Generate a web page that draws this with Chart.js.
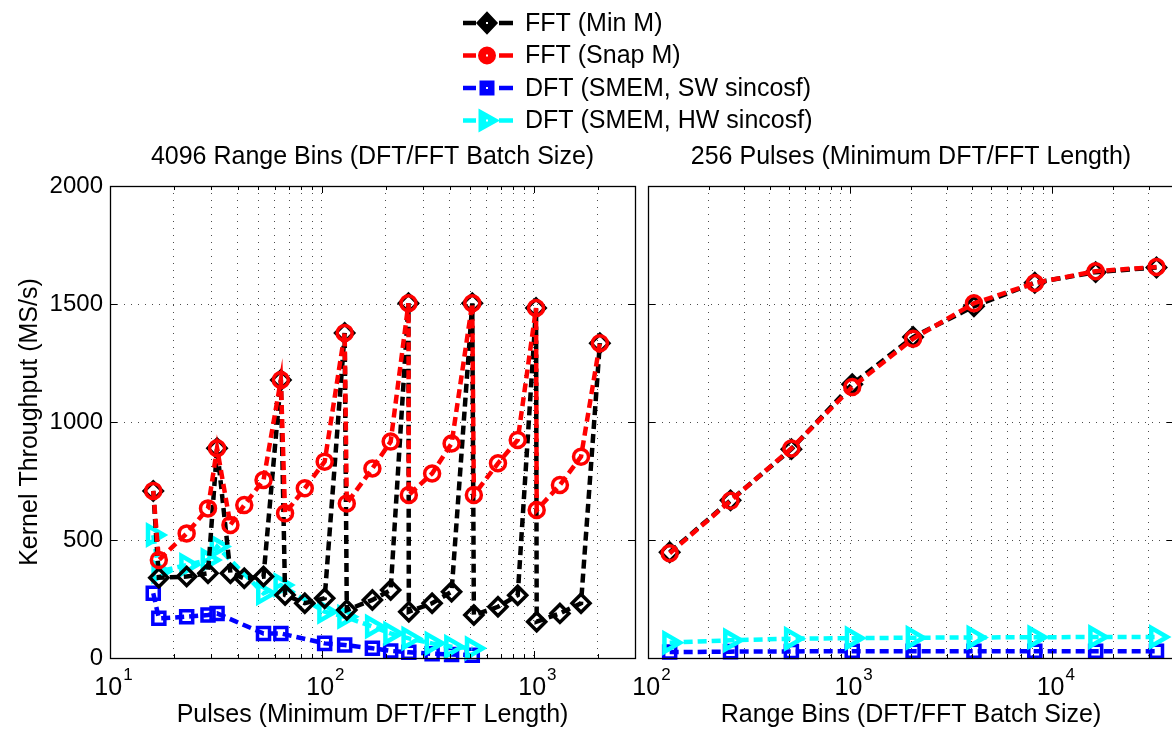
<!DOCTYPE html>
<html><head><meta charset="utf-8">
<script src="https://cdn.jsdelivr.net/npm/chart.js@4.4.1/dist/chart.umd.min.js"></script>
<style>
html,body{margin:0;padding:0;background:#fff;overflow:hidden;width:1172px;height:730px;}
#c1{position:absolute;left:0;top:0;}
#c2{position:absolute;left:600px;top:0;}
</style></head><body>
<canvas id="c1" width="1172" height="730"></canvas>
<canvas id="c2" width="576" height="730"></canvas>
<script>
const FONT = "'Liberation Sans', Arial, Helvetica, sans-serif";

// ---- Left panel: 4096 range bins, x = pulses ----
const pulsesFFT = [16, 17, 23, 29, 32, 37, 43, 53, 64, 67, 83, 103, 128, 131, 173, 211, 256, 257, 331, 409, 512, 521, 677, 839, 1024, 1031, 1327, 1669, 2048];
const fftMinM  = [708, 340, 345, 359, 889, 359, 338, 345, 1178, 267, 232, 253, 1377, 203, 246, 288, 1503, 196, 232, 281, 1503, 182, 217, 266, 1483, 154, 189, 232, 1334];
const fftSnapM = [708, 415, 528, 634, 889, 564, 648, 754, 1178, 613, 719, 832, 1377, 655, 803, 917, 1503, 691, 782, 909, 1503, 691, 825, 924, 1483, 627, 733, 853, 1334];
const pulsesDFT = [16, 17, 23, 29, 32, 53, 64, 103, 128, 173, 211, 257, 331, 409, 512];
const dftSW = [274, 168, 175, 182, 189, 104, 104, 62, 55, 41, 30, 24, 18, 15, 12];
const dftHW = [521, 366, 394, 415, 472, 274, 309, 196, 175, 133, 104, 83, 62, 48, 41];

// ---- Right panel: 256 pulses, x = range bins ----
const rangeBins = [128, 256, 512, 1024, 2048, 4096, 8192, 16384, 32768];
const rMinM  = [448, 668, 885, 1160, 1360, 1490, 1590, 1635, 1655];
const rSnapM = [444, 666, 888, 1148, 1353, 1503, 1589, 1639, 1657];
const rSW = [25, 27, 28, 29, 29, 29, 29, 29, 29];
const rHW = [65, 75, 82, 84, 86, 87, 88, 89, 89];

// ---- Ticks / labels ----
const yTicks = [0, 500, 1000, 1500, 2000];
const leftXGrid = [10,20,30,40,50,60,70,80,90,100,200,300,400,500,600,700,800,900,1000,2000,3000];
const rightXGrid = [100,200,300,400,500,600,700,800,900,1000,2000,3000,4000,5000,6000,7000,8000,9000,10000,20000,30000,40000];
const leftDecades = [10, 100, 1000];
const rightDecades = [100, 1000, 10000];
const legendLabels = ['FFT (Min M)', 'FFT (Snap M)', 'DFT (SMEM, SW sincosf)', 'DFT (SMEM, HW sincosf)'];
const seriesColors = ['#000000', '#ff0000', '#0000ff', '#00ffff'];
const titleLeft = '4096 Range Bins (DFT/FFT Batch Size)';
const titleRight = '256 Pulses (Minimum DFT/FFT Length)';
const xTitleLeft = 'Pulses (Minimum DFT/FFT Length)';
const xTitleRight = 'Range Bins (DFT/FFT Batch Size)';
const yTitle = 'Kernel Throughput (MS/s)';

const pts = (xs, ys) => xs.map((x, i) => ({x: x, y: ys[i]}));

const styles = [
  {pointStyle: 'rectRot', pointRadius: 9, rot: 0, order: 1, bw: 3.5},
  {pointStyle: 'circle', pointRadius: 7.5, rot: 0, order: 0, bw: 3.5},
  {pointStyle: 'rect', pointRadius: 8.5, rot: 0, order: 3, bw: 3.5},
  {pointStyle: 'triangle', pointRadius: 10.5, rot: 90, order: 2, bw: 4.5}
];

function mkDatasets(series) {
  return series.map((d, i) => ({
    label: legendLabels[i],
    data: d,
    borderColor: seriesColors[i],
    pointBorderColor: seriesColors[i],
    pointBackgroundColor: 'rgba(0,0,0,0)',
    borderWidth: 4.5,
    borderDash: [9, 5],
    pointBorderWidth: styles[i].bw,
    pointStyle: styles[i].pointStyle,
    pointRadius: styles[i].pointRadius,
    pointRotation: styles[i].rot,
    order: styles[i].order,
    tension: 0,
    fill: false,
    clip: false
  }));
}

function boxPlugin(decades) {
  return {
    id: 'mbox',
    afterDraw(chart) {
      const ctx = chart.ctx, a = chart.chartArea, x = chart.scales.x, y = chart.scales.y;
      ctx.save();
      ctx.setLineDash([]);
      ctx.strokeStyle = '#000';
      ctx.lineWidth = 1;
      ctx.beginPath();
      x.ticks.forEach(t => {
        const px = Math.round(x.getPixelForValue(t.value)) + 0.5;
        const L = decades.includes(t.value) ? 7 : 4;
        ctx.moveTo(px, a.bottom); ctx.lineTo(px, a.bottom - L);
        ctx.moveTo(px, a.top); ctx.lineTo(px, a.top + L);
      });
      y.ticks.forEach(t => {
        const py = Math.round(y.getPixelForValue(t.value)) + 0.5;
        ctx.moveTo(a.left, py); ctx.lineTo(a.left + 7, py);
        ctx.moveTo(a.right, py); ctx.lineTo(a.right - 7, py);
      });
      ctx.stroke();
      ctx.lineWidth = 1.3;
      ctx.strokeRect(Math.round(a.left) + 0.5, Math.round(a.top) + 0.5, Math.round(a.right - a.left), Math.round(a.bottom - a.top));
      ctx.fillStyle = '#000';
      ctx.textAlign = 'left';
      ctx.textBaseline = 'alphabetic';
      decades.forEach(v => {
        const px = x.getPixelForValue(v);
        const ex = String(Math.round(Math.log10(v)));
        ctx.font = '25px ' + FONT; const w1 = ctx.measureText('10').width;
        ctx.font = '17px ' + FONT; const w2 = ctx.measureText(ex).width;
        const sx = px - (w1 + w2) / 2 + 3;
        ctx.font = '25px ' + FONT; ctx.fillText('10', sx, 695);
        ctx.font = '17px ' + FONT; ctx.fillText(ex, sx + w1 + 1, 680);
      });
      ctx.restore();
    }
  };
}

function drawMarker(ctx, i, x, y) {
  const c = seriesColors[i];
  ctx.fillStyle = c; ctx.strokeStyle = c; ctx.lineWidth = 3;
  ctx.beginPath();
  if (i === 0) { ctx.moveTo(x - 9, y); ctx.lineTo(x, y - 9.5); ctx.lineTo(x + 9, y); ctx.lineTo(x, y + 9.5); ctx.closePath(); }
  else if (i === 1) { ctx.arc(x, y, 7.5, 0, Math.PI * 2); }
  else if (i === 2) { ctx.rect(x - 6, y - 6, 12, 12); }
  else { ctx.moveTo(x + 10, y); ctx.lineTo(x - 7, y - 9.5); ctx.lineTo(x - 7, y + 9.5); ctx.closePath(); }
  ctx.fill(); ctx.stroke();
  ctx.fillStyle = '#fff';
  ctx.fillRect(x - 1, y - 1, 2, 2);
}

const legendPlugin = {
  id: 'mlegend',
  afterDraw(chart) {
    const ctx = chart.ctx;
    ctx.save();
    legendLabels.forEach((lab, i) => {
      const y = 23 + i * 32.5;
      ctx.setLineDash([]);
      ctx.strokeStyle = seriesColors[i];
      ctx.lineWidth = 4.5;
      ctx.beginPath();
      ctx.moveTo(463, y); ctx.lineTo(476, y);
      ctx.moveTo(499, y); ctx.lineTo(513, y);
      ctx.stroke();
      drawMarker(ctx, i, 487, y);
      ctx.fillStyle = '#000';
      ctx.font = '25px ' + FONT;
      ctx.textAlign = 'left';
      ctx.textBaseline = 'middle';
      ctx.fillText(lab, 525, y + 1);
    });
    ctx.restore();
  }
};

const gridOpts = {color: 'rgba(0,0,0,0.7)', lineWidth: 1, drawTicks: false};
const borderOpts = {display: false, dash: [1, 6]};

function makeChart(canvas, cfg) {
  return new Chart(canvas, {
    type: 'line',
    data: {datasets: mkDatasets(cfg.series)},
    options: {
      responsive: false, animation: false, devicePixelRatio: 1, events: [],
      layout: {padding: cfg.padding, autoPadding: false},
      plugins: {
        legend: {display: false}, tooltip: {enabled: false},
        title: {display: true, text: cfg.title, fullSize: false, color: '#000',
                font: {family: FONT, size: 25, weight: 'normal', lineHeight: 1.2}, padding: {top: 2, bottom: 14}}
      },
      scales: {
        x: {
          type: 'logarithmic', min: cfg.xmin, max: cfg.xmax,
          afterBuildTicks: s => { s.ticks = cfg.xgrid.map(v => ({value: v})); },
          afterFit: s => { s.height = 72; },
          ticks: {display: false},
          grid: gridOpts, border: borderOpts,
          title: {display: true, text: cfg.xtitle, color: '#000', font: {family: FONT, size: 25, lineHeight: 1.2}, padding: {top: 0, bottom: 0}}
        },
        y: {
          type: 'linear', min: 0, max: 2000,
          afterBuildTicks: s => { s.ticks = yTicks.map(v => ({value: v})); },
          afterFit: s => { s.width = cfg.yWidth; },
          ticks: {display: cfg.yLabels, color: '#000', padding: 7, font: {family: FONT, size: 24},
                  callback: v => String(v)},
          grid: gridOpts, border: borderOpts,
          title: {display: cfg.yLabels, text: yTitle, color: '#000', font: {family: FONT, size: 25, lineHeight: 1.2}, padding: {top: 15, bottom: 0}}
        }
      }
    },
    plugins: cfg.plugins
  });
}

makeChart(document.getElementById('c1'), {
  series: [pts(pulsesFFT, fftMinM), pts(pulsesFFT, fftSnapM), pts(pulsesDFT, dftSW), pts(pulsesDFT, dftHW)],
  padding: {top: 140, right: 537, bottom: 0, left: 0},
  title: titleLeft, xtitle: xTitleLeft, xmin: 10, xmax: 3000, xgrid: leftXGrid,
  yWidth: 110, yLabels: true,
  plugins: [boxPlugin(leftDecades), legendPlugin]
});

makeChart(document.getElementById('c2'), {
  series: [pts(rangeBins, rMinM), pts(rangeBins, rSnapM), pts(rangeBins, rSW), pts(rangeBins, rHW)],
  padding: {top: 140, right: 2, bottom: 0, left: 0},
  title: titleRight, xtitle: xTitleRight, xmin: 100, xmax: 40000, xgrid: rightXGrid,
  yWidth: 48, yLabels: false,
  plugins: [boxPlugin(rightDecades)]
});
</script>
</body></html>
